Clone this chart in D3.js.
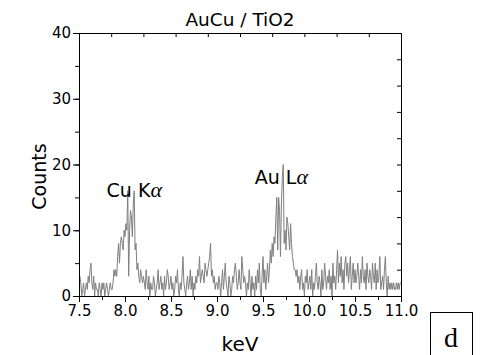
<html>
<head>
    <script src="https://d3js.org/d3.v7.min.js"></script>
    <style>
        html,body{
            margin: 0px;
            padding: 0px;
            background-color: white;
        }
    </style>
</head>
<body>
    <div id="chart"></div>
    <script>
        // EDS spectrum, one count value per 10 eV channel from 7.50 to 11.00 keV
        const startKeV = 7.5;
        const stepKeV = 0.01;
        const counts = [
            3,3,2,0,1,2,0,1,2,1,   3,2,4,5,2,1,3,0,2,1,
            1,0,2,1,0,2,1,2,0,1,   2,1,0,1,2,1,1,2,4,3,
            4,3,6,8,5,8,9,8,7,10,  9,11,10,16,3,10,13,12,9,14,
            16,7,8,4,5,3,2,4,3,2,  3,2,1,4,2,1,3,0,2,1,
            1,3,2,0,1,2,4,1,2,3,   1,2,0,3,1,2,4,3,1,2,
            3,1,2,0,1,3,2,4,1,0,   2,1,3,6,2,1,0,2,3,1,
            2,4,1,3,0,2,1,3,2,4,   3,6,2,3,4,3,2,5,4,3,
            4,5,6,8,3,4,2,3,1,2,   2,1,3,2,0,2,4,1,3,5,
            2,1,0,3,2,0,1,3,2,4,   5,3,1,2,4,2,1,6,4,2,
            3,2,0,2,1,4,2,0,3,1,   2,0,3,1,4,2,5,1,0,3,
            6,2,4,1,3,5,2,4,7,5,   8,6,9,8,12,15,7,15,13,6,
            14,18,20,8,10,7,12,11,9,7, 11,8,6,5,4,4,3,4,2,3,
            1,3,4,1,2,0,3,2,4,1,   2,3,1,4,0,2,1,3,5,2,
            1,3,2,0,4,1,2,5,3,1,   3,2,4,1,3,0,5,2,3,1,
            4,7,2,5,3,6,2,4,1,5,   6,3,5,2,4,6,1,3,5,2,
            4,2,3,5,3,1,4,2,6,3,   2,4,1,5,3,2,4,3,1,5,
            3,2,5,1,4,2,3,6,1,2,   3,1,4,6,2,0,3,1,2,1,
            2,1,2,1,1,2,1,2,1,2,   2
        ];
        const xTicks = [7.5, 8.0, 8.5, 9.0, 9.5, 10.0, 10.5, 11.0];
        const yTicks = [0, 10, 20, 30, 40];
        // label text starts at keV, baseline at count
        const peakLabels = [
            {name: "Cu K", keV: 7.80, count: 15},
            {name: "Au L", keV: 9.41, count: 17}
        ];

        const sans = "'DejaVu Sans', Verdana, sans-serif";
        const serif = "'Liberation Serif', 'Times New Roman', serif";

        const margin = {top: 33, right: 79, bottom: 59, left: 79},
            width = 480 - margin.left - margin.right,
            height = 355 - margin.top - margin.bottom;

        const data = counts.map((c, i) => ({keV: startKeV + i * stepKeV, count: c}));

        const svg = d3.select("#chart")
            .append("svg")
                .attr("width", 480)
                .attr("height", 355);
        const g = svg.append("g")
            .attr("transform", "translate(" + margin.left + "," + margin.top + ")");

        const x = d3.scaleLinear().domain([7.5, 11.0]).range([0, width]);
        const y = d3.scaleLinear().domain([0, 40]).range([height, 0]);

        // spectrum
        g.append("path")
            .datum(data)
            .attr("fill", "none")
            .attr("stroke", "#808080")
            .attr("stroke-width", 1)
            .attr("d", d3.line()
                .x(d => x(d.keV))
                .y(d => y(d.count)));

        // bottom axis: labelled every 0.5, minor every 0.25
        g.append("g")
            .attr("transform", "translate(0," + height + ")")
            .call(d3.axisBottom(x).tickValues(d3.range(7.5, 11.01, 0.25)).tickSize(4).tickFormat(""));
        g.append("g")
            .attr("class", "lab")
            .attr("transform", "translate(0," + height + ")")
            .call(d3.axisBottom(x).tickValues(xTicks).tickSize(6).tickPadding(3).tickFormat(d3.format(".1f")));

        // left axis: labelled every 10, minor every 5
        g.append("g")
            .call(d3.axisLeft(y).tickValues(d3.range(0, 41, 5)).tickSize(4).tickFormat(""));
        g.append("g")
            .attr("class", "lab")
            .call(d3.axisLeft(y).tickValues(yTicks).tickSize(6).tickPadding(2));

        // top and right frame with inward ticks
        g.append("g")
            .call(d3.axisTop(x).tickValues(d3.range(0, 11).map(k => 7.5 + k * 0.35)).tickSize(-4).tickFormat(""));
        g.append("g")
            .attr("transform", "translate(" + width + ",0)")
            .call(d3.axisRight(y).tickValues(d3.range(0, 41, 4)).tickSize(-4).tickFormat(""));

        g.selectAll(".domain").attr("stroke", "black").attr("stroke-width", 1);
        g.selectAll(".tick line").attr("stroke", "black");
        g.selectAll(".lab .tick text")
            .style("font-family", sans)
            .style("font-size", "15px")
            .attr("fill", "black");

        // peak names with a serif alpha
        peakLabels.forEach(p => {
            const t = g.append("text")
                .attr("x", x(p.keV))
                .attr("y", y(p.count))
                .attr("text-anchor", "start")
                .style("font-family", sans)
                .style("font-size", "19px");
            t.append("tspan").text(p.name);
            t.append("tspan")
                .style("font-family", serif)
                .style("font-style", "italic")
                .style("font-size", "22px")
                .text("α");
        });

        svg.append("text")
            .attr("text-anchor", "middle")
            .attr("x", margin.left + width / 2)
            .attr("y", 26)
            .style("font-family", sans)
            .style("font-size", "18.5px")
            .text("AuCu / TiO2");

        svg.append("text")
            .attr("text-anchor", "middle")
            .attr("x", margin.left + width / 2)
            .attr("y", 351)
            .style("font-family", sans)
            .style("font-size", "20px")
            .text("keV");

        svg.append("text")
            .attr("text-anchor", "middle")
            .attr("transform", "translate(46," + (margin.top + height / 2 + 12) + ") rotate(-90)")
            .style("font-family", sans)
            .style("font-size", "19px")
            .text("Counts");

        // panel letter
        svg.append("rect")
            .attr("x", 430.5)
            .attr("y", 312.5)
            .attr("width", 42)
            .attr("height", 50)
            .attr("fill", "none")
            .attr("stroke", "black");
        svg.append("text")
            .attr("text-anchor", "middle")
            .attr("x", 451)
            .attr("y", 347)
            .style("font-family", serif)
            .style("font-size", "28px")
            .text("d");
    </script>
</body>
</html>
